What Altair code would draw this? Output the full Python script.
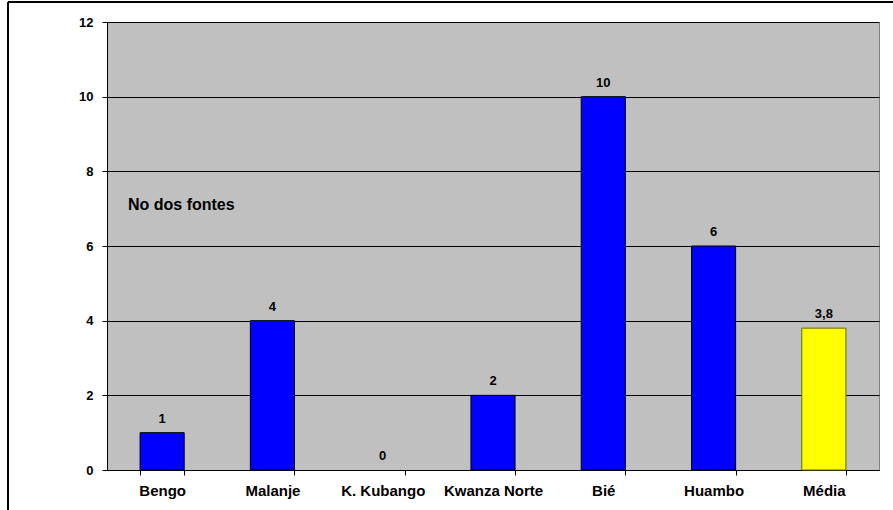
import altair as alt
import pandas as pd

categories = ["Bengo", "Malanje", "K. Kubango", "Kwanza Norte", "Bié", "Huambo", "Média"]
values = [1, 4, 0, 2, 10, 6, 3.8]
labels = ["1", "4", "0", "2", "10", "6", "3,8"]
colors = ["#0000ff"] * 6 + ["#ffff00"]
strokes = ["#000000"] * 6 + ["#6b6b00"]
y_ticks = [0, 2, 4, 6, 8, 10, 12]

df = pd.DataFrame({"cat": categories, "val": values, "lab": labels, "col": colors, "stk": strokes})
df["sw"] = [1 if v > 0 else 0 for v in values]

x = alt.X("cat:N", sort=categories, title=None,
          scale=alt.Scale(paddingInner=0.6, paddingOuter=0.3),
          axis=alt.Axis(labelAngle=0, labelFont="Liberation Sans", labelFontWeight="bold",
                        labelFontSize=15, labelColor="#000", labelPadding=8,
                        tickBand="extent", tickSize=5, tickColor="#000", domainColor="#000",
                        grid=False))
y = alt.Y("val:Q", title=None,
          scale=alt.Scale(domain=[0, 12], nice=False),
          axis=alt.Axis(values=y_ticks, labelFont="Liberation Sans", labelFontWeight="bold",
                        labelFontSize=13, labelColor="#000", labelPadding=9, tickSize=5,
                        tickColor="#000", domainColor="#000", gridColor="#000",
                        gridOpacity=1, gridWidth=1))

bars = alt.Chart(df).mark_bar().encode(
    x=x, y=y,
    color=alt.Color("col:N", scale=None),
    stroke=alt.Stroke("stk:N", scale=None),
    strokeWidth=alt.StrokeWidth("sw:Q", scale=None),
)

text = alt.Chart(df).mark_text(font="Liberation Sans", fontWeight="bold", fontSize=13,
                               baseline="bottom", dy=-7, color="#000").encode(
    x=alt.X("cat:N", sort=categories), y="val:Q", text="lab:N")

note = alt.Chart(pd.DataFrame({"t": ["No dos fontes"]})).mark_text(
    font="Liberation Sans", fontWeight="bold", fontSize=16, align="left", baseline="middle",
    color="#000").encode(x=alt.value(21), y=alt.value(183), text="t:N")

frame_top = alt.Chart(pd.DataFrame({"a": [0]})).mark_rule(color="#000", strokeWidth=2).encode(
    x=alt.value(-99), x2=alt.value(786), y=alt.value(-20))
frame_left = alt.Chart(pd.DataFrame({"a": [0]})).mark_rule(color="#000", strokeWidth=2).encode(
    x=alt.value(-99), y=alt.value(-20), y2=alt.value(488))

chart = alt.layer(bars, text, note, frame_top, frame_left).properties(
    width=772, height=448,
    padding={"left": 107, "top": 22, "right": 14, "bottom": 40},
    autosize=alt.AutoSizeParams(type="none"),
    background="#ffffff",
).configure_view(fill="#c0c0c0", stroke="#808080", strokeWidth=1)

chart.save("out.html", embed_options={"renderer": "svg", "actions": False})
